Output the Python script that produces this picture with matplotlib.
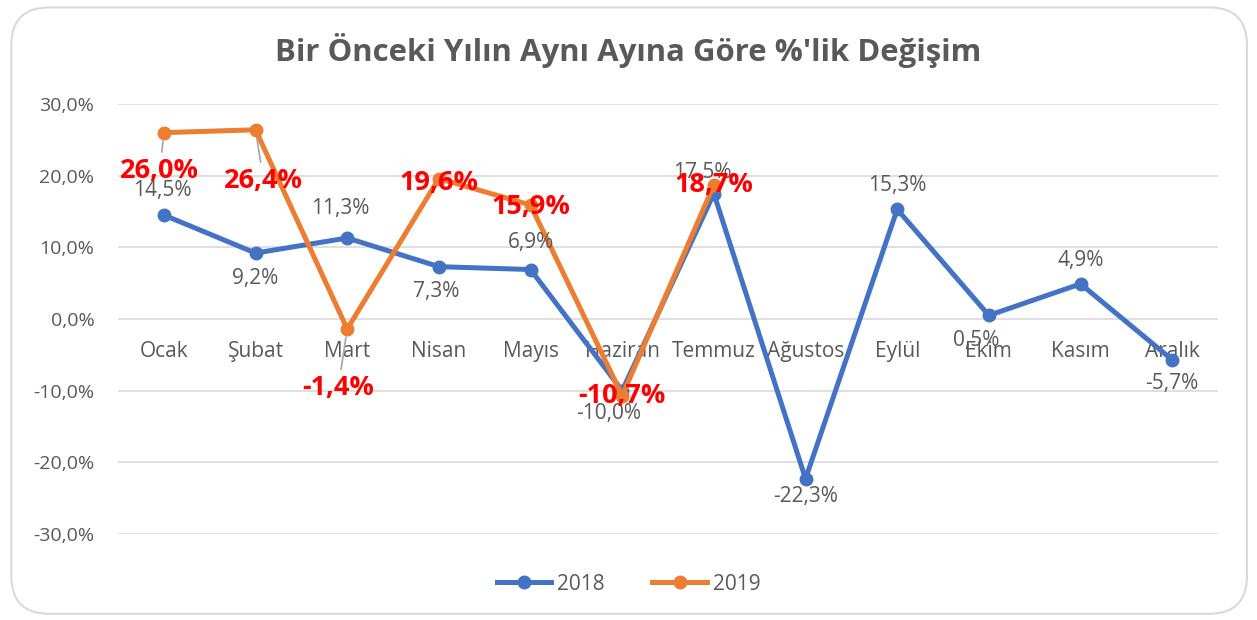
import matplotlib
matplotlib.use("Agg")
import matplotlib.pyplot as plt
from matplotlib.patches import FancyBboxPatch
from matplotlib.lines import Line2D

plt.rcParams['font.family'] = ['Open Sans', 'DejaVu Sans']

# data
months = ["Ocak", "Şubat", "Mart", "Nisan", "Mayıs", "Haziran",
          "Temmuz", "Ağustos", "Eylül", "Ekim", "Kasım", "Aralık"]
y2018 = [14.5, 9.2, 11.3, 7.3, 6.9, -10.0, 17.5, -22.3, 15.3, 0.5, 4.9, -5.7]
y2019 = [26.0, 26.4, -1.4, 19.6, 15.9, -10.7, 18.7]
yticks = [-30, -20, -10, 0, 10, 20, 30]

# label offsets in pixels (dx, dy)
off2018 = [(-2, 25), (0, -25), (-7, 30), (-3, -25), (0, 27), (-14, -23),
           (-12, 21), (0, -18), (0, 24), (-13, -25), (0, 23), (0, -24)]
off2019 = [(-4, -38), (8, -51), (-9, -59), (0, -4), (0, -2), (0, 0), (0, 0)]
leader2019 = [True, True, True, False, False, False, False]

blue = "#4472C4"
orange = "#ED7D31"
gray = "#595959"

def fmt(v):
    return f"{v:.1f}".replace(".", ",") + "%"

fig = plt.figure(figsize=(12.57, 6.2), dpi=100)
frame = FancyBboxPatch((0.009, 0.01), 0.983, 0.978, boxstyle="round,pad=0,rounding_size=0.03",
                       transform=fig.transFigure, facecolor="none", edgecolor="#D9D9D9",
                       linewidth=1.5, mutation_aspect=1257/620, zorder=0)
fig.patches.append(frame)

ax = fig.add_axes([0.0939, 0.1387, 0.8751, 0.6936])
ax.set_facecolor("none")
x = list(range(len(months)))

ax.plot(x, y2018, color=blue, lw=3.6, marker="o", ms=9, solid_capstyle="round", zorder=3)
ax.plot(x[:len(y2019)], y2019, color=orange, lw=3.6, marker="o", ms=9, solid_capstyle="round", zorder=4)

ax.set_xlim(-0.5, 11.5)
ax.set_ylim(-30, 30)
ax.set_yticks(yticks)
ax.set_yticklabels([fmt(t) for t in yticks], fontsize=14, color=gray)
ax.set_xticks([])
ax.tick_params(axis="y", length=0, pad=17)
ax.grid(axis="y", color="#D9D9D9", lw=1.2)
ax.set_axisbelow(True)
for s in ax.spines.values():
    s.set_visible(False)

# category labels at the zero line
for i, m in enumerate(months):
    ax.annotate(m, (i, 0), xytext=(0, -33), textcoords="offset pixels",
                ha="center", va="center", fontsize=15, color=gray, zorder=2)

for i, v in enumerate(y2018):
    dx, dy = off2018[i]
    ax.annotate(fmt(v), (i, v), xytext=(dx, dy), textcoords="offset pixels",
                ha="center", va="center", fontsize=15, color=gray, zorder=5)

for i, v in enumerate(y2019):
    dx, dy = off2019[i]
    props = None
    if leader2019[i]:
        props = dict(arrowstyle="-", color="#A6A6A6", lw=1.2, shrinkA=2, shrinkB=6)
    ax.annotate(fmt(v), (i, v), xytext=(dx, dy), textcoords="offset pixels",
                ha="center", va="center", fontsize=19.5, fontweight="bold", color="#FF0000",
                zorder=6, arrowprops=props)

fig.text(0.5, 0.918, "Bir Önceki Yılın Aynı Ayına Göre %'lik Değişim",
         ha="center", va="center", fontsize=22.4, fontweight="bold", color=gray)

handles = [Line2D([], [], color=blue, lw=3.6, marker="o", ms=9),
           Line2D([], [], color=orange, lw=3.6, marker="o", ms=9)]
fig.legend(handles, ["2018", "2019"], loc="center", bbox_to_anchor=(0.5, 0.058), ncol=2,
           frameon=False, fontsize=15, labelcolor=gray, handlelength=2.6,
           handletextpad=0.3, columnspacing=2.3)

fig.savefig("out.png", dpi=100)
